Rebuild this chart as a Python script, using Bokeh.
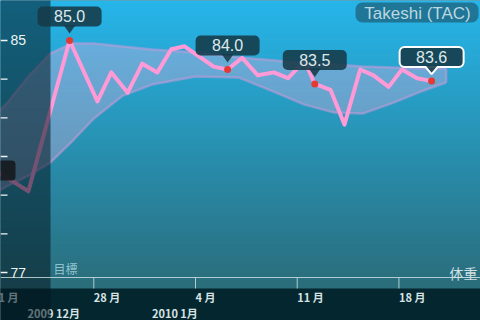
import pandas as pd
from bokeh.plotting import figure
from bokeh.models import Range1d, Span
from bokeh.core.properties import value
from bokeh.embed import file_html
from bokeh.resources import INLINE

# ---------------- data ----------------
weigh_times = ["2009-12-20 23:00", "2009-12-23 12:00", "2009-12-26 08:00", "2009-12-28 06:00",
               "2009-12-29 05:00", "2009-12-30 08:00", "2009-12-31 08:00", "2010-01-01 09:00",
               "2010-01-02 08:00", "2010-01-03 06:00", "2010-01-05 06:00", "2010-01-06 05:00",
               "2010-01-07 05:00", "2010-01-08 07:00", "2010-01-09 09:00", "2010-01-10 09:00",
               "2010-01-11 12:00", "2010-01-12 05:00", "2010-01-13 07:00", "2010-01-14 06:00",
               "2010-01-15 08:00", "2010-01-16 06:00", "2010-01-17 07:00", "2010-01-18 05:00",
               "2010-01-19 06:00", "2010-01-20 06:00"]
weights = [80.6, 79.8, 85.0, 82.9, 83.9, 83.2, 84.2, 83.9, 84.7, 84.8, 84.1, 84.0,
           84.4, 83.8, 83.9, 83.7, 84.3, 83.5, 83.3, 82.1, 84.0, 83.8, 83.4, 84.0,
           83.7, 83.6]

band_times = ["2009-12-20 12:00", "2009-12-22 00:00", "2009-12-23 12:00", "2009-12-25 00:00",
              "2009-12-26 12:00", "2009-12-28 00:00", "2009-12-30 00:00", "2010-01-01 00:00",
              "2010-01-04 00:00", "2010-01-07 00:00", "2010-01-09 12:00", "2010-01-11 12:00",
              "2010-01-13 12:00", "2010-01-15 12:00", "2010-01-17 12:00", "2010-01-19 12:00",
              "2010-01-21 06:00"]
band_upper = [82.07, 82.83, 83.76, 84.55, 84.90, 84.90, 84.79, 84.69, 84.59, 84.41,
              84.31, 84.21, 84.17, 84.10, 84.07, 84.03, 84.03]
band_lower = [79.52, 79.97, 80.34, 80.79, 81.52, 82.31, 83.10, 83.48, 83.76, 83.72,
              83.21, 82.79, 82.52, 82.48, 82.83, 83.24, 83.55]

callout_times = ["2009-12-26 08:00", "2010-01-06 05:00", "2010-01-12 05:00", "2010-01-20 06:00"]
callout_values = [85.0, 84.0, 83.5, 83.6]
callout_texts = ["85.0", "84.0", "83.5", "83.6"]

y_ticks = [77.0, 78.33, 79.67, 81.0, 82.33, 83.67, 85.0]
y_label_values = [85.0, 77.0]
y_label_texts = ["85", "77"]

x_tick_dates = ["2009-12-21", "2009-12-28", "2010-01-04", "2010-01-11", "2010-01-18"]
x_tick_labels = ["21 月", "28 月", "4 月", "11 月", "18 月"]
month_texts = ["2009 12月", "2010 1月"]
month_starts = ["2009-12-01", "2010-01-01"]

title_text = "Takeshi (TAC)"
goal_text = "目標"
series_text = "体重"

# ---------------- helpers ----------------
BASE = pd.Timestamp("2009-12-21")


def days(lst):
    return [(pd.Timestamp(s) - BASE) / pd.Timedelta(days=1) for s in lst]


W, H = 480, 320
x0, x1 = 0.579, 33.614
y0, y1 = 75.345, 86.379
kx = (x1 - x0) / W
ky = (y1 - y0) / H


def px_x(px):
    return x0 + px * kx


def px_y(py):
    return y1 - py * ky


wt = days(weigh_times)
bt = days(band_times)
ct = days(callout_times)
xt = days(x_tick_dates)
ms = days(month_starts)

LATIN = value("Liberation Sans")
CJK = value("Noto Sans CJK JP")

p = figure(width=W, height=H, x_range=Range1d(x0, x1), y_range=Range1d(y0, y1),
           output_backend="svg", toolbar_location=None, min_border=0,
           x_axis_location=None, y_axis_location=None, outline_line_color=None,
           background_fill_color="#06262e", border_fill_color="#06262e")
p.grid.visible = False

# background gradient (0..288 px), strips overlap to avoid seams
top_c = (38, 182, 234)
bot_c = (42, 108, 122)
N = 72
lefts, rights, tops, bots, cols = [], [], [], [], []
for i in range(N):
    f = (i + 0.5) / N
    c = tuple(int(round(top_c[k] + (bot_c[k] - top_c[k]) * f)) for k in range(3))
    lefts.append(x0 - 1); rights.append(x1 + 1)
    tops.append(px_y(i * 4) if i > 0 else y1 + 1)
    bots.append(px_y((i + 1) * 4 + 2))
    cols.append("#%02x%02x%02x" % c)
p.quad(left=lefts, right=rights, top=tops, bottom=bots, fill_color=cols, line_color=None)

# bottom dark band
p.quad(left=[x0 - 1], right=[x1 + 1], top=[px_y(288)], bottom=[y0 - 1],
       fill_color="#04262e", line_color=None)

# trend band
p.varea(x=bt, y1=band_lower, y2=band_upper, fill_color="#ffb4e0", fill_alpha=0.3)
p.line(bt, band_upper, line_color="#c99ada", line_alpha=0.55, line_width=2.5)
p.line(bt, band_lower, line_color="#c99ada", line_alpha=0.55, line_width=2.5)
p.line([bt[-1], bt[-1]], [band_lower[-1], band_upper[-1]], line_color="#c99ada",
       line_alpha=0.55, line_width=2.5)

# weight line
p.line(wt, weights, line_color="#ff9ad6", line_width=4, line_join="round")
p.scatter(ct, callout_values, marker="circle", size=7, fill_color="#e33a34", line_color=None)

# x axis baseline, ticks, labels
p.add_layout(Span(location=px_y(277), dimension="width", line_color="#cfe3e6",
                  line_alpha=0.8, line_width=1))
p.segment(x0=xt, y0=[px_y(277)] * len(xt), x1=xt, y1=[px_y(288)] * len(xt),
          line_color="#cfe3e6", line_alpha=0.8, line_width=1)
p.text(x=xt, y=[px_y(296)] * len(xt), text=x_tick_labels, x_offset=0,
       text_align="left", text_baseline="middle", text_font=CJK,
       text_font_size="11px", text_font_style="bold", text_color="#d6e2e4")
month_x = [px_x(27), ms[1]]
p.text(x=month_x, y=[px_y(312)] * 2, text=month_texts, text_align="left",
       text_baseline="middle", text_font=CJK, text_font_size="11px",
       text_font_style="bold", text_color="#d6e2e4")

p.text(x=[px_x(53)], y=[px_y(268)], text=[goal_text], text_align="left",
       text_baseline="middle", text_font=CJK, text_font_size="12px",
       text_color="#9fcfd8", text_alpha=0.9)

# left dark panel
p.quad(left=[x0 - 1], right=[px_x(50)], top=[y1 + 1], bottom=[y0 - 1], fill_color="#041820",
       fill_alpha=0.55, line_color=None)

# left clipped callout box (value off screen)
p.quad(left=[px_x(-50)], right=[px_x(15)], top=[px_y(160)], bottom=[px_y(180)],
       fill_color="#15191e", fill_alpha=0.9, line_color=None, border_radius=4)

# y ticks and labels
p.segment(x0=[x0] * len(y_ticks), y0=y_ticks, x1=[px_x(7)] * len(y_ticks), y1=y_ticks,
          line_color="#f2f6f6", line_width=1.3)
p.text(x=[px_x(10)] * len(y_label_values), y=y_label_values, text=y_label_texts,
       text_align="left", text_baseline="middle", text_font=LATIN,
       text_font_size="14px", text_color="#eef4f4")

# callouts
for i, (t, v, s) in enumerate(zip(ct, callout_values, callout_texts)):
    last = i == len(ct) - 1
    b = v + 14 * ky
    tp = v + 34 * ky
    p.quad(left=[t - 32 * kx], right=[t + 32 * kx], top=[tp], bottom=[b],
           fill_color="#163a48", fill_alpha=0.88,
           line_color="white" if last else None, line_width=2, border_radius=5)
    p.patch([t - 6 * kx, t + 6 * kx, t], [b + 1.5 * ky, b + 1.5 * ky, b - 7 * ky],
            fill_color="#163a48", fill_alpha=0.88, line_color=None)
    if last:
        p.line([t - 6 * kx, t, t + 6 * kx], [b, b - 7 * ky, b], line_color="white",
               line_width=2)
    p.text(x=[t], y=[v + 24 * ky], text=[s], text_align="center", text_baseline="middle",
           text_font=LATIN, text_font_size="16px", text_color="#dfe9ec")

# title box
p.quad(left=[px_x(355)], right=[px_x(478)], top=[px_y(2)], bottom=[px_y(22)],
       fill_color="#1e6682", fill_alpha=0.8, line_color=None, border_radius=7)
p.text(x=[px_x(417)], y=[px_y(12.5)], text=[title_text], text_align="center",
       text_baseline="middle", text_font=LATIN, text_font_size="17px", text_color="#bcd7e0")

p.text(x=[px_x(477)], y=[px_y(272)], text=[series_text], text_align="right",
       text_baseline="middle", text_font=CJK, text_font_size="14px", text_color="#d0e0e4")

open("out.html", "w").write(file_html(p, INLINE))
